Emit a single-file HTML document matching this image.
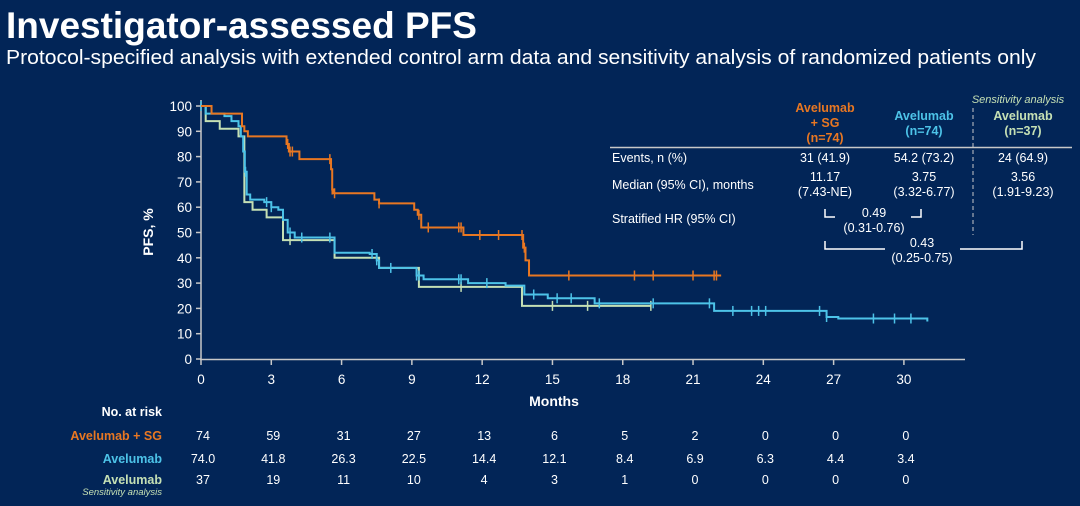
<!DOCTYPE html>
<html><head><meta charset="utf-8"><style>
html,body{margin:0;padding:0;background:#022557;}
svg{display:block;font-family:"Liberation Sans",Arial,sans-serif;}
</style></head><body>
<svg id="s" width="1080" height="506" viewBox="0 0 1080 506" xmlns="http://www.w3.org/2000/svg">
<rect width="1080" height="506" fill="#022557"/>
<text x="6" y="38" font-size="37" font-weight="bold" fill="#fff">Investigator-assessed PFS</text>
<text x="6" y="64" font-size="20" fill="#fff" textLength="1030" lengthAdjust="spacingAndGlyphs">Protocol-specified analysis with extended control arm data and sensitivity analysis of randomized patients only</text>
<g id="axes" stroke="#c8c8c8" stroke-width="1.5" fill="none">
<line x1="201" y1="100" x2="201" y2="360"/>
<line x1="200" y1="359.5" x2="965" y2="359.5"/>
</g>
<g id="ticks"></g>
<text transform="translate(153,232) rotate(-90)" font-size="14" font-weight="bold" fill="#fff" text-anchor="middle">PFS, %</text>
<text x="554" y="406" font-size="14" font-weight="bold" fill="#fff" text-anchor="middle">Months</text>
<g id="curves" fill="none" stroke-width="2"></g>
<g font-size="12.5" fill="#fff">
<text x="1018" y="103" font-size="11" font-style="italic" fill="#c5e0b4" text-anchor="middle">Sensitivity analysis</text>
<g font-weight="bold" text-anchor="middle" font-size="12.5">
<text x="825" y="112" fill="#e87722">Avelumab</text>
<text x="825" y="127" fill="#e87722">+ SG</text>
<text x="825" y="142" fill="#e87722">(n=74)</text>
<text x="924" y="120" fill="#4dc3e8">Avelumab</text>
<text x="924" y="135" fill="#4dc3e8">(n=74)</text>
<text x="1023" y="120" fill="#c5e0b4">Avelumab</text>
<text x="1023" y="135" fill="#c5e0b4">(n=37)</text>
</g>
<line x1="610" y1="147.5" x2="1072" y2="147.5" stroke="#c8c8c8" stroke-width="1.5"/>
<line x1="973" y1="108" x2="973" y2="235" stroke="#c8c8c8" stroke-width="1" stroke-dasharray="4,3"/>
<text x="612" y="162">Events, n (%)</text>
<text x="612" y="189">Median (95% CI), months</text>
<text x="612" y="223">Stratified HR (95% CI)</text>
<g text-anchor="middle">
<text x="825" y="162">31 (41.9)</text>
<text x="924" y="162">54.2 (73.2)</text>
<text x="1023" y="162">24 (64.9)</text>
<text x="825" y="181">11.17</text><text x="825" y="196">(7.43-NE)</text>
<text x="924" y="181">3.75</text><text x="924" y="196">(3.32-6.77)</text>
<text x="1023" y="181">3.56</text><text x="1023" y="196">(1.91-9.23)</text>
<text x="874" y="217">0.49</text><text x="874" y="232">(0.31-0.76)</text>
<text x="922" y="247">0.43</text><text x="922" y="262">(0.25-0.75)</text>
</g>
<g stroke="#fff" stroke-width="1.5" fill="none">
<polyline points="825,209 825,217 835,217"/>
<polyline points="911,217 921,217 921,209"/>
<polyline points="825,241 825,249 885,249"/>
<polyline points="960,249 1022,249 1022,241"/>
</g>
</g>
<g font-size="12.5" text-anchor="middle" fill="#fff" id="risk">
<text x="162" y="416" text-anchor="end" font-weight="bold">No. at risk</text>
<text x="162" y="440" text-anchor="end" font-weight="bold" fill="#e87722">Avelumab + SG</text>
<text x="162" y="463" text-anchor="end" font-weight="bold" fill="#4dc3e8">Avelumab</text>
<text x="162" y="484" text-anchor="end" font-weight="bold" fill="#c5e0b4">Avelumab</text>
<text x="162" y="495" text-anchor="end" font-size="9.5" font-style="italic" fill="#c5e0b4">Sensitivity analysis</text>
</g>
</svg>
<script>
const NS="http://www.w3.org/2000/svg";
const X=t=>201+23.43*t, Y=p=>359-2.53*p;
function el(p,tag,a,txt){const e=document.createElementNS(NS,tag);for(const k in a)e.setAttribute(k,a[k]);if(txt!==undefined)e.textContent=txt;p.appendChild(e);return e;}
const tk=document.getElementById('ticks');
for(let p=0;p<=100;p+=10){el(tk,'line',{x1:196,x2:201,y1:Y(p),y2:Y(p),stroke:'#c8c8c8','stroke-width':1.5});el(tk,'text',{x:192,y:Y(p)+5,'font-size':13.5,fill:'#fff','text-anchor':'end'},p);}
for(let t=0;t<=30;t+=3){el(tk,'line',{x1:X(t),x2:X(t),y1:359,y2:365,stroke:'#c8c8c8','stroke-width':1.5});el(tk,'text',{x:X(t),y:384,'font-size':13.5,fill:'#fff','text-anchor':'middle'},t);}
const cv=document.getElementById('curves');
function curve(steps,end,col,cens){let d=`M${X(0)},${Y(steps[0][1])}`;
for(let i=1;i<steps.length;i++){const[t,v]=steps[i];d+=` H${X(t)} V${Y(v)}`;}
d+=` H${X(end)}`;el(cv,'path',{d:d,stroke:col});
const val=t=>{let v=steps[0][1];for(const s of steps){if(s[0]<=t)v=s[1];}return v;};
for(const t of cens){const y=Y(val(t));el(cv,'line',{x1:X(t),x2:X(t),y1:y-5,y2:y+5,stroke:col,'stroke-width':1.5});}}
curve([[0,100],[0.2,94],[0.8,91],[1.6,88],[1.85,62],[2.2,59],[2.8,56],[3.5,47],[5.7,40],[7.6,36],[9.3,28.5],[13.7,21]],19.2,'#c5e0b4',[3.8,11.1,15,16.5,19.2]);
curve([[0,100],[0.2,97],[1.0,96],[1.3,94],[1.6,92],[1.7,88],[1.8,82],[1.87,74],[1.95,65],[2.1,63],[2.7,62],[3.0,60],[3.3,59],[3.5,55],[3.7,50],[4.0,48],[5.7,42],[7.2,41.5],[7.5,39],[7.6,36],[9.2,33],[9.5,31.5],[11.4,30],[13.0,29],[13.8,25.5],[14.8,24],[16.8,22],[21.9,19],[26.7,16.6],[27.2,16],[31,14.8]],31,'#4dc3e8',[0,1.9,2.8,3.0,3.8,4.3,5.5,7.3,7.5,8.1,9.2,9.3,11.0,11.1,12.2,14.2,15.2,15.8,17,19.3,21.7,22.7,23.5,23.8,24.1,26.4,26.7,28.7,29.6,30.3]);
curve([[0,100],[0.45,97],[1.75,92],[1.85,90],[2.0,88],[3.65,85],[3.75,82],[4.2,79],[5.55,75],[5.6,67],[5.65,65.5],[7.4,63],[7.6,61.5],[9.1,59],[9.25,57],[9.4,52],[11.2,49],[13.75,44],[13.85,39],[14.0,33]],22.2,'#e87722',[3.7,3.8,3.9,5.5,5.6,5.7,7.6,9.3,9.7,11.0,11.1,11.9,12.7,13.7,13.8,15.7,18.5,19.3,21.0,21.9,22.0]);
const rk=document.getElementById('risk');
const rows=[[440,[74,59,31,27,13,6,5,2,0,0,0]],[463,['74.0','41.8','26.3','22.5','14.4','12.1','8.4','6.9','6.3','4.4','3.4']],[484,[37,19,11,10,4,3,1,0,0,0,0]]];
for(const [y,v] of rows)v.forEach((s,i)=>el(rk,'text',{x:X(i*3)+2,y:y,fill:'#fff'},s));
</script>
</body></html>
